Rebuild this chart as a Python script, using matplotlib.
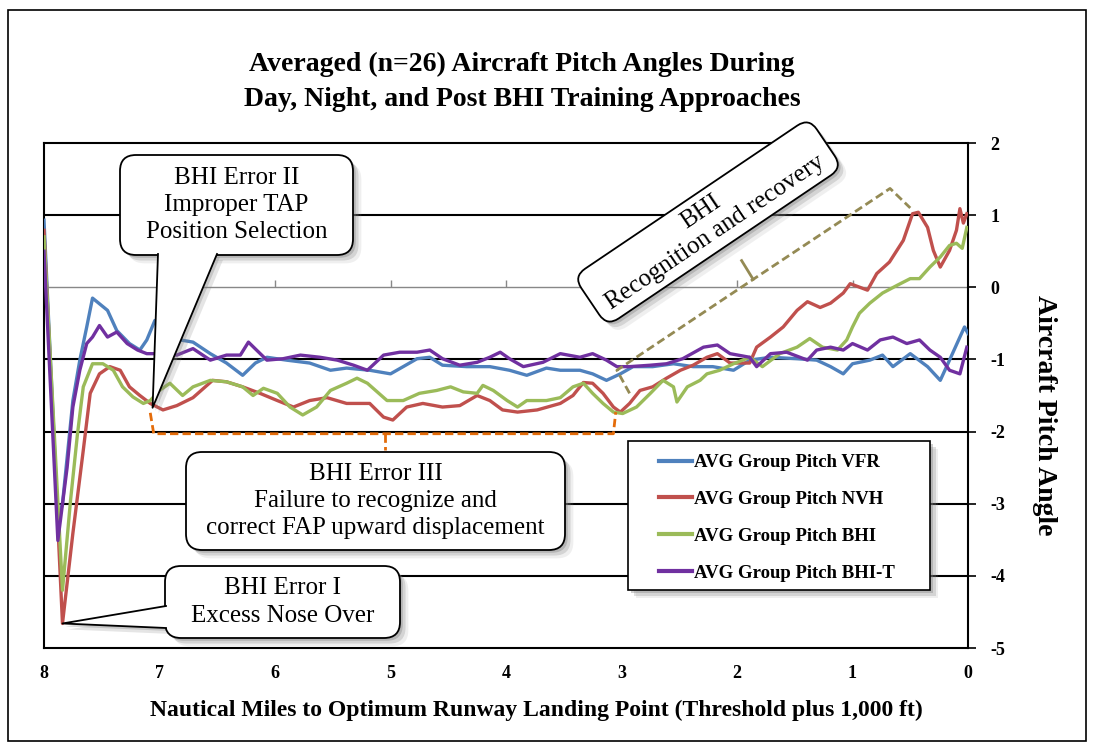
import matplotlib.pyplot as plt
import matplotlib.patheffects as pe
from matplotlib.patches import FancyBboxPatch, Polygon, Rectangle
from matplotlib.lines import Line2D
from matplotlib.transforms import IdentityTransform, Affine2D

plt.rcParams['font.family'] = ['Liberation Serif', 'DejaVu Serif']
plt.rcParams['axes.unicode_minus'] = False

# nautical miles to landing point / averaged pitch angle (deg)
vfr_nm = [8.00, 7.88, 7.84, 7.75, 7.69, 7.63, 7.58, 7.45, 7.37, 7.26, 7.17, 7.11, 7.04,
          6.82, 6.71, 6.56, 6.42, 6.28, 6.17, 6.07, 5.90, 5.70, 5.52, 5.38, 5.18, 5.00,
          4.89, 4.77, 4.66, 4.55, 4.34, 4.14, 3.97, 3.82, 3.65, 3.53, 3.36, 3.25, 3.13,
          3.01, 2.90, 2.73, 2.55, 2.38, 2.21, 2.03, 1.89, 1.71, 1.48, 1.31, 1.19, 1.08,
          1.00, 0.85, 0.74, 0.65, 0.50, 0.35, 0.24, 0.16, 0.07, 0.03, 0.00]
vfr_pitch = [0.93, -3.23, -3.00, -1.57, -1.01, -0.55, -0.15, -0.32, -0.60, -0.78, -0.87, -0.73, -0.46,
             -0.73, -0.76, -0.92, -1.05, -1.22, -1.05, -0.97, -1.01, -1.05, -1.15, -1.12, -1.15, -1.20,
             -1.10, -0.99, -0.97, -1.08, -1.10, -1.10, -1.15, -1.22, -1.12, -1.15, -1.15, -1.20, -1.29,
             -1.20, -1.10, -1.10, -1.06, -1.10, -1.10, -1.15, -1.01, -0.97, -0.99, -1.01, -1.10, -1.20,
             -1.06, -1.01, -0.94, -1.10, -0.92, -1.10, -1.29, -1.01, -0.69, -0.55, -0.64]

nvh_nm = [8.00, 7.84, 7.75, 7.66, 7.60, 7.52, 7.43, 7.34, 7.26, 7.17, 7.08, 6.97, 6.85,
          6.71, 6.54, 6.42, 6.28, 6.13, 5.98, 5.84, 5.70, 5.55, 5.38, 5.18, 5.06, 4.98,
          4.86, 4.72, 4.55, 4.40, 4.25, 4.14, 4.03, 3.90, 3.73, 3.53, 3.42, 3.33, 3.25,
          3.16, 3.07, 3.01, 2.93, 2.84, 2.73, 2.61, 2.49, 2.38, 2.26, 2.17, 2.06, 1.89,
          1.83, 1.71, 1.60, 1.48, 1.39, 1.28, 1.19, 1.08, 1.02, 0.87, 0.79, 0.68, 0.56,
          0.48, 0.43, 0.35, 0.30, 0.24, 0.16, 0.10, 0.07, 0.04, 0.01]
nvh_pitch = [0.79, -4.66, -3.41, -2.26, -1.47, -1.20, -1.10, -1.15, -1.38, -1.50, -1.61, -1.70, -1.64,
             -1.53, -1.29, -1.31, -1.38, -1.47, -1.57, -1.66, -1.57, -1.53, -1.61, -1.61, -1.80, -1.84,
             -1.66, -1.61, -1.66, -1.64, -1.50, -1.57, -1.70, -1.73, -1.70, -1.61, -1.50, -1.32, -1.33,
             -1.47, -1.66, -1.73, -1.61, -1.43, -1.38, -1.26, -1.15, -1.08, -0.97, -0.92, -1.05, -1.05,
             -0.83, -0.69, -0.55, -0.32, -0.20, -0.28, -0.22, -0.08, 0.05, -0.04, 0.19, 0.35, 0.65,
             1.02, 1.04, 0.83, 0.51, 0.28, 0.51, 0.79, 1.09, 0.89, 1.02]

bhi_nm = [8.00, 7.84, 7.77, 7.71, 7.66, 7.58, 7.49, 7.40, 7.32, 7.23, 7.14, 7.08, 7.00,
          6.91, 6.80, 6.71, 6.56, 6.42, 6.28, 6.19, 6.10, 5.98, 5.87, 5.76, 5.64, 5.52,
          5.38, 5.29, 5.20, 5.03, 4.89, 4.75, 4.60, 4.48, 4.37, 4.25, 4.20, 4.11, 3.99,
          3.90, 3.82, 3.65, 3.53, 3.42, 3.33, 3.25, 3.16, 3.07, 2.99, 2.87, 2.75, 2.64,
          2.55, 2.52, 2.43, 2.32, 2.26, 2.15, 2.03, 1.89, 1.78, 1.63, 1.48, 1.37, 1.26,
          1.13, 1.05, 1.00, 0.94, 0.85, 0.74, 0.61, 0.50, 0.42, 0.33, 0.24, 0.16, 0.10,
          0.05, 0.01]
bhi_pitch = [0.70, -4.20, -2.95, -2.03, -1.38, -1.06, -1.06, -1.15, -1.38, -1.52, -1.61, -1.57, -1.43,
             -1.33, -1.50, -1.38, -1.29, -1.31, -1.38, -1.50, -1.40, -1.47, -1.66, -1.77, -1.66, -1.43,
             -1.33, -1.26, -1.33, -1.57, -1.57, -1.47, -1.43, -1.38, -1.45, -1.47, -1.36, -1.43, -1.57,
             -1.66, -1.57, -1.57, -1.53, -1.38, -1.33, -1.47, -1.61, -1.73, -1.75, -1.66, -1.47, -1.29,
             -1.38, -1.59, -1.38, -1.29, -1.20, -1.15, -1.06, -0.97, -1.10, -0.92, -0.83, -0.71, -0.83,
             -0.87, -0.73, -0.55, -0.36, -0.22, -0.08, 0.03, 0.12, 0.12, 0.28, 0.42, 0.58, 0.61,
             0.54, 0.83]

bhit_nm = [8.00, 7.88, 7.80, 7.75, 7.69, 7.63, 7.58, 7.52, 7.45, 7.37, 7.28, 7.19, 7.11,
           7.04, 6.85, 6.71, 6.56, 6.42, 6.30, 6.23, 6.16, 6.07, 5.93, 5.78, 5.61, 5.46,
           5.32, 5.20, 5.06, 4.92, 4.77, 4.66, 4.55, 4.40, 4.25, 4.14, 4.05, 3.97, 3.85,
           3.68, 3.53, 3.36, 3.25, 3.13, 3.04, 2.93, 2.75, 2.61, 2.47, 2.29, 2.17, 2.06,
           1.89, 1.83, 1.71, 1.57, 1.39, 1.31, 1.19, 1.08, 1.00, 0.87, 0.76, 0.65, 0.53,
           0.42, 0.33, 0.24, 0.16, 0.07, 0.01]
bhit_pitch = [0.50, -3.51, -2.50, -1.66, -1.15, -0.78, -0.69, -0.53, -0.69, -0.62, -0.78, -0.87, -0.92,
              -0.92, -0.94, -0.85, -1.01, -0.94, -0.94, -0.76, -0.87, -1.01, -0.99, -0.94, -0.97, -1.01,
              -1.08, -1.15, -0.94, -0.90, -0.90, -0.87, -0.99, -1.08, -1.04, -0.97, -0.90, -0.99, -1.10,
              -1.04, -0.92, -0.97, -0.92, -1.01, -1.10, -1.10, -1.08, -1.06, -0.99, -0.83, -0.80, -0.92,
              -0.97, -1.10, -0.92, -0.90, -1.01, -0.87, -0.83, -0.87, -0.78, -0.87, -0.73, -0.69, -0.78,
              -0.73, -0.87, -0.97, -1.15, -1.20, -0.83]

series = [
    (vfr_nm, vfr_pitch, '#4F81BD', 'AVG Group Pitch VFR'),
    (nvh_nm, nvh_pitch, '#C0504D', 'AVG Group Pitch NVH'),
    (bhi_nm, bhi_pitch, '#9BBB59', 'AVG Group Pitch BHI'),
    (bhit_nm, bhit_pitch, '#7030A0', 'AVG Group Pitch BHI-T'),
]

W, H = 1094, 749
fig = plt.figure(figsize=(W / 100, H / 100), dpi=100)
ax = fig.add_axes([44 / W, 1 - 648 / H, 924 / W, 505 / H])

for y in [-4, -3, -2, -1, 1]:
    ax.axhline(y, color='black', lw=1.5, zorder=1)
ax.axhline(0, color='#888888', lw=1.0, zorder=1)
ax.vlines(range(9), 0, 0.1, color='#888888', lw=1.0, zorder=1)

lines = []
for xs, ys, col, lab in series:
    ln, = ax.plot(xs, ys, color=col, lw=2.4, label=lab, zorder=3, solid_joinstyle='round')
    lines.append(ln)

ax.set_xlim(8, 0)
ax.set_ylim(-5, 2)
ax.set_xticks(range(9))
ax.set_xticklabels([str(v) for v in range(9)])
ax.yaxis.tick_right()
ax.set_yticks(range(-5, 3))
ax.tick_params(axis='x', length=0, pad=12, labelsize=13)
ax.tick_params(axis='y', length=6, width=1.2, pad=10, labelsize=13, direction='out')
for lbl in ax.get_xticklabels() + ax.get_yticklabels():
    lbl.set_fontweight('bold')
for sp in ax.spines.values():
    sp.set_linewidth(1.5)

# outer frame
fig.add_artist(Rectangle((8, H - 741), 1078, 731, transform=IdentityTransform(),
                         fill=False, ec='black', lw=1.2))

fig.text(522, H - 82, 'Averaged (n=26) Aircraft Pitch Angles During\nDay, Night, and Post BHI Training Approaches',
         transform=IdentityTransform(), ha='center', va='center', fontsize=20, fontweight='bold',
         linespacing=1.5)
fig.text(536, H - 710, 'Nautical Miles to Optimum Runway Landing Point (Threshold plus 1,000 ft)',
         transform=IdentityTransform(), ha='center', va='center', fontsize=17, fontweight='bold')
fig.text(1045, H - 415, 'Aircraft Pitch Angle', transform=IdentityTransform(), ha='center',
         va='center', rotation=270, fontsize=20, fontweight='bold')

shadow = [pe.SimplePatchShadow(offset=(2, -2), shadow_rgbFace='0.45', alpha=0.35),
          pe.SimplePatchShadow(offset=(4, -4), shadow_rgbFace='0.5', alpha=0.25),
          pe.SimplePatchShadow(offset=(6, -6), shadow_rgbFace='0.6', alpha=0.15),
          pe.Normal()]

# legend with a hand-drawn frame
ax.add_artist(Rectangle((628, H - 590), 302, 149, transform=IdentityTransform(),
                        fc='white', ec='black', lw=1.2, zorder=8, path_effects=shadow,
                        clip_on=False))
leg = ax.legend(handles=lines, loc='upper left',
                bbox_to_anchor=((659 - 44) / 924, (648 - 454) / 505),
                frameon=False, borderpad=0, borderaxespad=0, handlelength=1.75,
                handletextpad=0.1, labelspacing=1.05,
                prop={'family': 'Liberation Serif', 'weight': 'bold', 'size': 13.5})
leg.set_zorder(9)
for h in leg.legend_handles:
    h.set_linewidth(3)


def disp(x, y):
    return (x, H - y)


def data_px(x, y):
    dx, dy = ax.transData.transform((x, y))
    return dx, H - dy


def callout(x0, y0, x1, y1, text, tail=None, inward=None):
    box = FancyBboxPatch(disp(x0, y1), x1 - x0, y1 - y0,
                         boxstyle='round,pad=0,rounding_size=16',
                         transform=IdentityTransform(), fc='white', ec='black', lw=1.3,
                         zorder=10, path_effects=shadow)
    fig.add_artist(box)
    if tail is not None:
        b1, tip, b2 = tail
        ix, iy = inward
        for off, a in [(3, 0.3), (6, 0.2)]:
            sh = Polygon([disp(b1[0] + off, b1[1] + off), disp(tip[0] + off, tip[1] + off),
                          disp(b2[0] + off, b2[1] + off)], closed=True,
                         transform=IdentityTransform(), fc='0.5', ec='none', alpha=a, zorder=9)
            fig.add_artist(sh)
        fill = Polygon([disp(b1[0] + ix, b1[1] + iy), disp(*b1), disp(*tip), disp(*b2),
                        disp(b2[0] + ix, b2[1] + iy)], closed=True,
                       transform=IdentityTransform(), fc='white', ec='none', zorder=11)
        fig.add_artist(fill)
        edge = Line2D([b1[0], tip[0], b2[0]], [H - b1[1], H - tip[1], H - b2[1]],
                      transform=IdentityTransform(), color='black', lw=1.3, zorder=11)
        fig.add_artist(edge)
    fig.text((x0 + x1) / 2, H - (y0 + y1) / 2, text, transform=IdentityTransform(),
             ha='center', va='center', multialignment='center', fontsize=18,
             linespacing=1.3, zorder=12)


callout(120, 155, 353, 255, 'BHI Error II\nImproper TAP\nPosition Selection',
        tail=((158, 254), data_px(7.06, -1.67), (217, 254)), inward=(0, -4))
callout(186, 452, 565, 550, 'BHI Error III\nFailure to recognize and\ncorrect FAP upward displacement')
i_min = nvh_pitch.index(min(nvh_pitch))
callout(165, 566, 400, 638, 'BHI Error I\nExcess Nose Over',
        tail=((166, 606), data_px(nvh_nm[i_min], nvh_pitch[i_min]), (166, 628)), inward=(4, 0))

# rotated recognition and recovery box
cx, cy = 708, H - 222
rot = Affine2D().rotate_deg_around(cx, cy, 34)
rbox = FancyBboxPatch((cx - 142, cy - 30), 284, 60, boxstyle='round,pad=0,rounding_size=14',
                      transform=rot, fc='white', ec='black', lw=1.3, zorder=10,
                      path_effects=shadow)
fig.add_artist(rbox)
fig.text(cx, cy, 'BHI\nRecognition and recovery', transform=IdentityTransform(),
         ha='center', va='center', multialignment='center', rotation=34,
         rotation_mode='anchor', fontsize=18, linespacing=1.2, zorder=12)

# brackets marking the error and recovery segments
ax.plot([7.08, 7.05, 3.07, 3.05], [-1.74, -2.03, -2.03, -1.73], color='#E46C0A', lw=2,
        ls=(0, (3, 1.5)), zorder=4, clip_on=False)
ax.plot([5.05, 5.05], [-2.03, -2.25], color='#E46C0A', lw=2, ls=(0, (3, 1.5)), zorder=4,
        clip_on=False)
ax.plot([2.93, 3.04, 1.86, 0.675, 0.50], [-1.47, -1.15, 0.11, 1.37, 1.10], color='#948A54',
        lw=2, ls=(0, (3, 1.5)), zorder=4, clip_on=False)
ax.plot([1.86, 1.96], [0.11, 0.37], color='#948A54', lw=2, zorder=4, clip_on=False)

fig.savefig('out.png', dpi=100)
